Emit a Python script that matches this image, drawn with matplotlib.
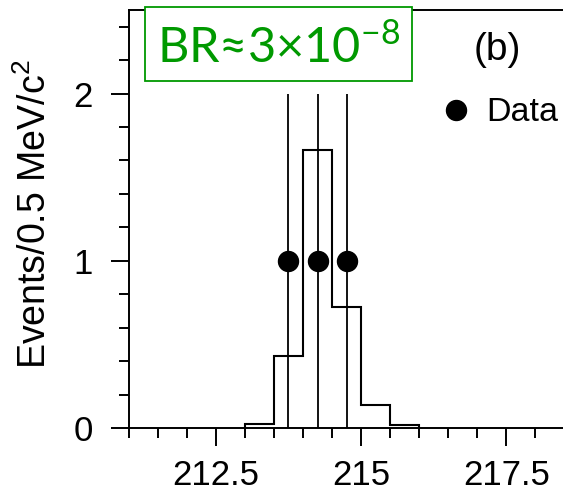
import matplotlib
matplotlib.use("Agg")
import matplotlib.pyplot as plt
from matplotlib.lines import Line2D
from matplotlib.patches import Rectangle
from matplotlib.ticker import MultipleLocator

plt.rcParams["font.family"] = ["Liberation Sans", "DejaVu Sans"]
plt.rcParams["mathtext.fontset"] = "custom"
plt.rcParams["mathtext.rm"] = "Liberation Sans"

# expected signal shape, 0.5 MeV bins
bin_edges = [213.0, 213.5, 214.0, 214.5, 215.0, 215.5, 216.0]
signal = [0.026, 0.43, 1.66, 0.725, 0.136, 0.015]

# observed events
data_x = [213.75, 214.25, 214.75]
data_y = [1, 1, 1]
data_err = [1, 1, 1]

x_ticks = [212.5, 215, 217.5]
x_labels = ["212.5", "215", "217.5"]
y_ticks = [0, 1, 2]

green = "#009900"

fig = plt.figure(figsize=(5.63, 4.92), dpi=100)
ax = fig.add_axes([0.2286, 0.1301, 0.7740, 0.8496])

ax.stairs(signal, bin_edges, color="black", linewidth=1.5, zorder=2)
ax.errorbar(data_x, data_y, yerr=data_err, fmt="o", color="black",
            markersize=14.4, elinewidth=1.3, capsize=0, zorder=3)

ax.set_xlim(211, 218.5)
ax.set_ylim(0, 2.5)

ax.set_xticks(x_ticks)
ax.set_xticklabels(x_labels)
ax.xaxis.set_minor_locator(MultipleLocator(0.5))
ax.set_yticks(y_ticks)
ax.yaxis.set_minor_locator(MultipleLocator(0.2))
ax.tick_params(which="major", direction="out", length=13, width=1.4,
               labelsize=25)
ax.tick_params(which="minor", direction="out", length=7, width=1.4)
ax.tick_params(axis="y", which="major", pad=13)
ax.tick_params(axis="x", which="major", pad=9)
ax.tick_params(top=False, right=False, which="both")
for side in ["left", "bottom", "top", "right"]:
    ax.spines[side].set_linewidth(1.4)

ax.set_ylabel("Events/0.5 MeV/c$^\\mathregular{2}$", fontsize=27)
ax.yaxis.set_label_coords(-0.172, 0.512)

ax.text(0.846, 0.904, "(b)", transform=ax.transAxes, fontsize=28,
        ha="center", va="center")

handle = Line2D([], [], marker="o", linestyle="none", color="black",
                markersize=14.4)
ax.legend([handle], ["Data"], loc="center left",
          bbox_to_anchor=(0.7117, 0.7536), frameon=False, fontsize=24.5,
          borderpad=0, borderaxespad=0, handlelength=1.0,
          handletextpad=0.4)

# branching-ratio box over the top edge
fig.add_artist(Rectangle((0.2575, 0.8354), 0.4737, 0.151,
                         transform=fig.transFigure, facecolor="white",
                         edgecolor=green, linewidth=1.3))
fig.text(0.494, 0.903, "BR≈3×10$^\\mathregular{-8}$", color=green,
         fontsize=35, family=["Lato", "DejaVu Sans"],
         ha="center", va="center")

fig.savefig("out.png", dpi=100)
